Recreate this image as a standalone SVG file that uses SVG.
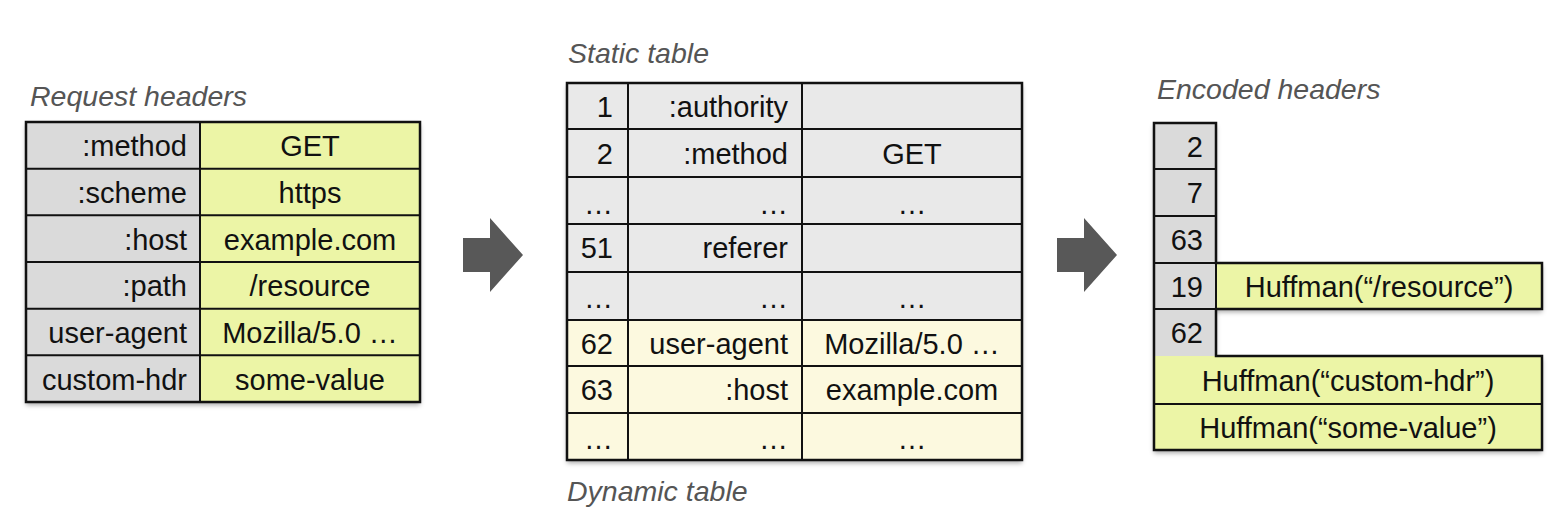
<svg xmlns="http://www.w3.org/2000/svg" width="1568" height="532" viewBox="0 0 1568 532">
<defs>
<filter id="sh" x="-5%" y="-5%" width="110%" height="115%">
<feDropShadow dx="0" dy="3" stdDeviation="2.5" flood-color="#000" flood-opacity="0.35"/>
</filter>
<style>
.t{font-family:"Liberation Sans",Arial,sans-serif;font-size:29px;fill:#111}
.r{text-anchor:end}
.c{text-anchor:middle}
.h{font-family:"Liberation Sans",Arial,sans-serif;font-size:28.5px;font-style:italic;fill:#555}
.g{fill:#dadada}
.y{fill:#ecf5a6}
.lg{fill:#e9e9e9}
.cr{fill:#fcf9df}
.ln{stroke:#111;stroke-width:2;fill:none}
.bx{stroke:#111;stroke-width:2.5;fill:none}
.ar{fill:#585858}
</style>
</defs>
<rect width="1568" height="532" fill="#fff"/>

<text class="h" x="30" y="106">Request headers</text>
<text class="h" x="568" y="63">Static table</text>
<text class="h" x="567" y="501">Dynamic table</text>
<text class="h" x="1157" y="99">Encoded headers</text>

<g id="request-headers">
<rect x="26" y="122" width="394" height="280" fill="#fff" filter="url(#sh)"/>
<rect class="g" x="26" y="122" width="174" height="280"/>
<rect class="y" x="200" y="122" width="220" height="280"/>
<path class="ln" d="M200 122V402M26 168.7H420M26 215.3H420M26 262H420M26 308.7H420M26 355.3H420"/>
<rect class="bx" x="26" y="122" width="394" height="280"/>
<text class="t r" x="187" y="156">:method</text>
<text class="t c" x="310" y="156">GET</text>
<text class="t r" x="187" y="203">:scheme</text>
<text class="t c" x="310" y="203">https</text>
<text class="t r" x="187" y="250">:host</text>
<text class="t c" x="310" y="250">example.com</text>
<text class="t r" x="187" y="296">:path</text>
<text class="t c" x="310" y="296">/resource</text>
<text class="t r" x="187" y="343">user-agent</text>
<text class="t c" x="310" y="343">Mozilla/5.0 …</text>
<text class="t r" x="187" y="390">custom-hdr</text>
<text class="t c" x="310" y="390">some-value</text>
</g>

<g id="table">
<rect x="567" y="83" width="455" height="377" fill="#fff" filter="url(#sh)"/>
<rect class="lg" x="567" y="83" width="455" height="237"/>
<rect class="cr" x="567" y="320" width="455" height="140"/>
<path class="ln" d="M628 83V460M802 83V460M567 129H1022M567 177H1022M567 224H1022M567 272H1022M567 320H1022M567 366H1022M567 413H1022"/>
<rect class="bx" x="567" y="83" width="455" height="377"/>
<text class="t r" x="613" y="117">1</text>
<text class="t r" x="788" y="117">:authority</text>
<text class="t r" x="613" y="164">2</text>
<text class="t r" x="788" y="164">:method</text>
<text class="t c" x="912" y="164">GET</text>
<text class="t r" x="613" y="214">…</text>
<text class="t r" x="788" y="214">…</text>
<text class="t c" x="912" y="214">…</text>
<text class="t r" x="613" y="258">51</text>
<text class="t r" x="788" y="258">referer</text>
<text class="t r" x="613" y="308">…</text>
<text class="t r" x="788" y="308">…</text>
<text class="t c" x="912" y="308">…</text>
<text class="t r" x="613" y="354">62</text>
<text class="t r" x="788" y="354">user-agent</text>
<text class="t c" x="912" y="354">Mozilla/5.0 …</text>
<text class="t r" x="613" y="400">63</text>
<text class="t r" x="788" y="400">:host</text>
<text class="t c" x="912" y="400">example.com</text>
<text class="t r" x="613" y="449">…</text>
<text class="t r" x="788" y="449">…</text>
<text class="t c" x="912" y="449">…</text>
</g>

<g id="encoded-headers">
<g filter="url(#sh)">
<rect class="g" x="1154" y="123" width="62" height="233"/>
<rect class="y" x="1216" y="263" width="326" height="46"/>
<rect class="y" x="1154" y="356" width="388" height="94"/>
</g>
<path class="bx" d="M1154 123H1216V263H1542V309H1216V356H1542V450H1154Z"/>
<path class="ln" d="M1154 169H1216M1154 216H1216M1154 263H1216M1154 309H1216M1216 263V356M1154 404H1542"/>
<text class="t r" x="1203" y="157">2</text>
<text class="t r" x="1203" y="203">7</text>
<text class="t r" x="1203" y="250">63</text>
<text class="t r" x="1203" y="297">19</text>
<text class="t c" x="1379" y="297">Huffman(“/resource”)</text>
<text class="t r" x="1203" y="343">62</text>
<text class="t c" x="1348" y="391">Huffman(“custom-hdr”)</text>
<text class="t c" x="1348" y="438">Huffman(“some-value”)</text>
</g>

<g id="connectors">
<polygon class="ar" points="463,238 490,238 490,218 523,255 490,292 490,272 463,272"/>
<polygon class="ar" points="1057,238 1084,238 1084,218 1117,255 1084,292 1084,272 1057,272"/>
</g>
</svg>
